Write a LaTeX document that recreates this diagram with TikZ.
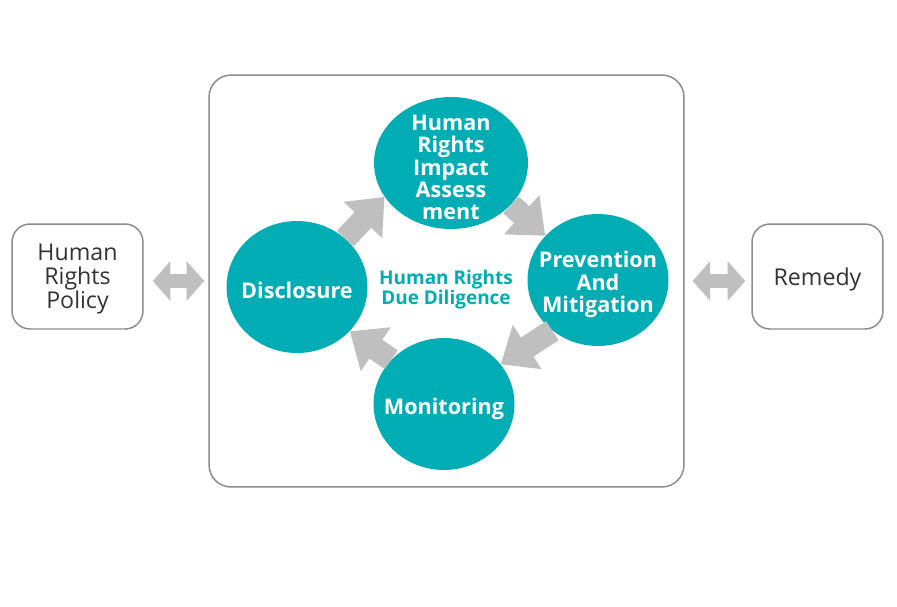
\documentclass[tikz,border=0pt]{standalone}
\usepackage{fontspec}
\setmainfont{Open Sans}
\usetikzlibrary{shapes,arrows.meta}
\definecolor{hrteal}{RGB}{0,173,181}
\definecolor{hrarrow}{RGB}{191,191,191}
\definecolor{hrborder}{RGB}{140,140,140}
\definecolor{hrtext}{RGB}{51,51,51}
\tikzstyle{box} = [rectangle, draw=hrborder, line width=0.85pt, rounded corners=0.36cm, minimum width=2.62cm, minimum height=2.1cm, align=center, text=hrtext, font=\fontsize{13.2}{13.6}\selectfont]
\tikzstyle{phase} = [ellipse, fill=hrteal, inner sep=0pt, minimum width=2.82cm, minimum height=2.64cm]
\tikzstyle{phasetext} = [align=center, text=white, font=\bfseries\fontsize{12.3}{12.6}\selectfont]
\tikzstyle{cyc} = [draw=hrarrow, line width=13pt, -{Triangle[width=29pt,length=18pt]}]
\tikzstyle{twoway} = [draw=hrarrow, line width=8.5pt, {Triangle[width=22pt,length=10pt]}-{Triangle[width=22pt,length=10pt]}]

\begin{document}
\begin{tikzpicture}[x=0.02cm, y=-0.02cm]
        \useasboundingbox (0,0) rectangle (897,606);

        \node (DD) [rectangle, draw=hrborder, line width=0.85pt, rounded corners=0.44cm, minimum width=9.5cm, minimum height=8.24cm] at (446.5,281) {};

        \node (HRP) [box] at (77.5,276.5) {};
        \node (REM) [box] at (817.5,276.5) {};
        \node (HRPt) [align=center, text=hrtext, font=\fontsize{13.2}{13.6}\selectfont] at ([yshift=-1.5pt]HRP.center) {Human\\Rights\\Policy};
        \node (REMt) [text=hrtext, font=\fontsize{13.2}{13.6}\selectfont] at ([yshift=-1.5pt]REM.center) {Remedy};

        \draw[twoway, shorten <=5.1pt, shorten >=2.3pt] (HRP.east |- DD.west) -- (DD.west);
        \draw[twoway, shorten <=4.5pt, shorten >=3.4pt] (DD.east) -- (REM.west |- DD.east);

        \node (HRIA) [phase, minimum width=3.08cm] at (451,163) {};
        \node (PAM) [phase] at (598,280) {};
        \node (MON) [phase] at (444,404) {};
        \node (DIS) [phase] at (297,287) {};

        \node (HRIAt) [phasetext] at ([yshift=-2.5pt]HRIA.center) {Human\\Rights\\Impact\\Assess\\ment};
        \node (PAMt) [phasetext] at ([yshift=-2.5pt]PAM.center) {Prevention\\And\\Mitigation};
        \node (MONt) [phasetext] at ([yshift=-2.5pt]MON.center) {Monitoring};
        \node (DISt) [phasetext] at ([yshift=-2pt]DIS.center) {Disclosure};

        \node (HRDD) [align=center, text=hrteal, font=\bfseries\fontsize{10.8}{11.4}\selectfont] at (446,290) {Human Rights\\Due Diligence};

        \draw[cyc] (DIS.45) -- (HRIA.207);
        \draw[cyc] (HRIA.-35) -- (PAM.140);
        \draw[cyc] (PAM.228) -- (MON.35);
        \draw[cyc] (MON.140) -- (DIS.-40);

    \end{tikzpicture}
\end{document}
